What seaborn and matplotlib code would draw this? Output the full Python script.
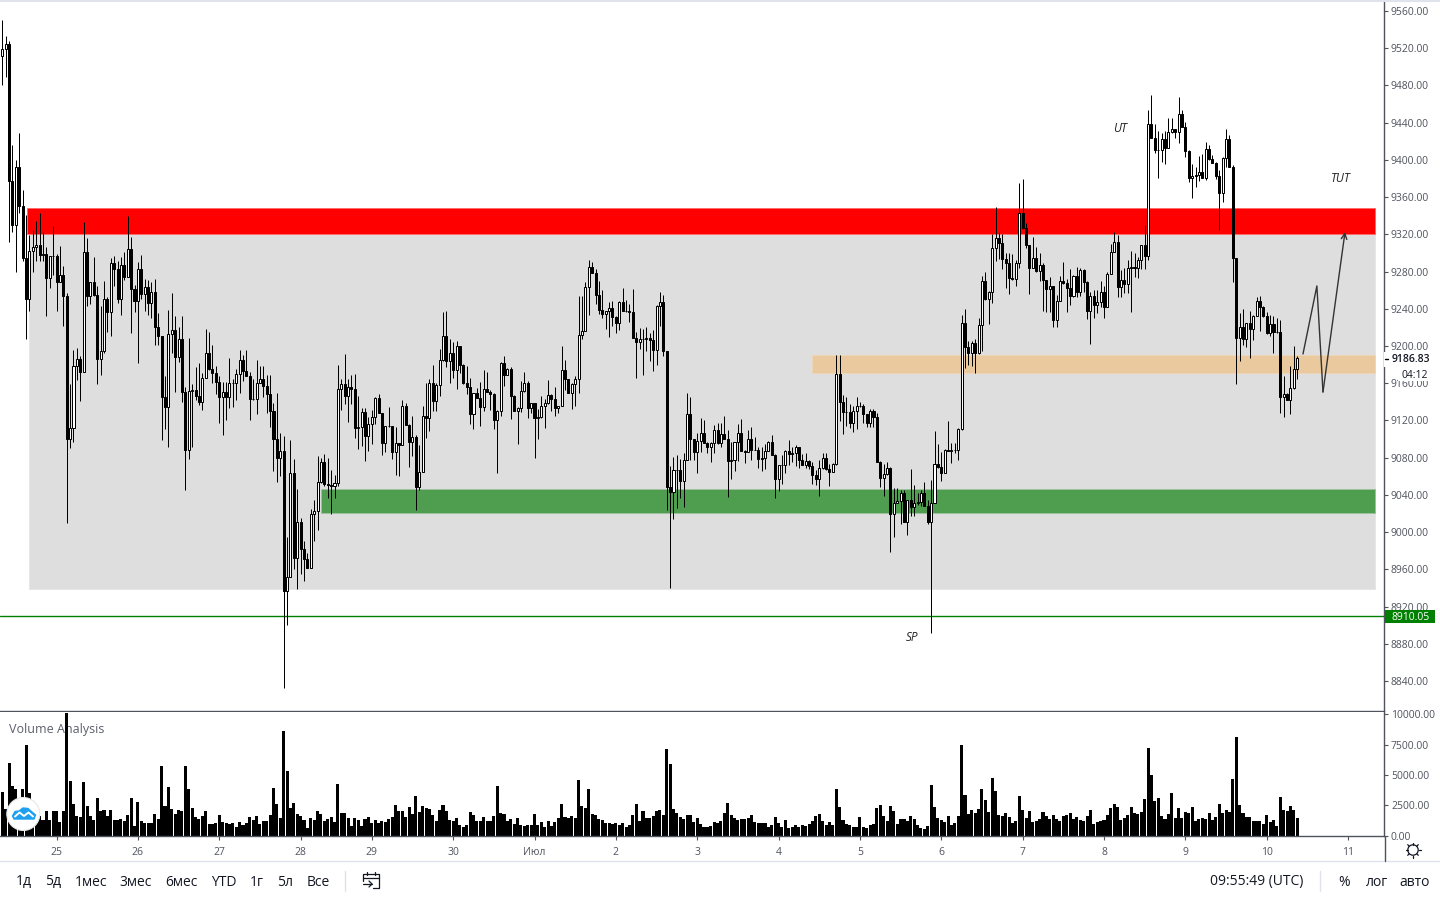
import numpy as np
import pandas as pd
import matplotlib
matplotlib.use('Agg')
import matplotlib.pyplot as plt
from matplotlib.patches import Rectangle, Circle, Polygon
import seaborn as sns

# closes / highs / lows of the hourly candles
first_open = 9512
closes = [
    9519, 9524.5, 9377, 9330, 9392, 9350, 9295, 9250, 9302, 9306,
    9309, 9298, 9299, 9273, 9297, 9297, 9269, 9276, 9254, 9100,
    9111.6, 9179, 9186, 9172.5, 9300.8, 9254, 9268.6, 9255, 9185.7, 9194.7,
    9251, 9236, 9289, 9283, 9251, 9286.6, 9274.5, 9304, 9261, 9248.7,
    9282.5, 9256, 9263, 9246.5, 9257.7, 9220.7, 9211, 9145.6, 9134.9, 9213,
    9217, 9188.6, 9208, 9151, 9088, 9151.7, 9152.8, 9146.7, 9140, 9166,
    9193, 9175, 9171, 9161.7, 9145.6, 9151, 9145.6, 9160, 9160, 9169.6,
    9185, 9173.5, 9168, 9143, 9143, 9160, 9164, 9157, 9148, 9130.6,
    9100, 9080, 9087.6, 8937, 8952, 9063, 8972.7, 9011, 8982, 8971,
    8961, 9019, 9022.7, 9053.6, 9075, 9052, 9051, 9050, 9053, 9153.5,
    9159, 9146.7, 9155.7, 9153.6, 9112.4, 9113, 9128.9, 9103.8, 9116, 9123.4,
    9144, 9128.5, 9096, 9113.5, 9113.8, 9086.6, 9096, 9094, 9135, 9115,
    9097, 9102.7, 9048, 9065, 9125, 9122.4, 9160, 9141, 9158, 9185,
    9210.8, 9184, 9192, 9174, 9200, 9179.7, 9160.7, 9156, 9127, 9149,
    9144.6, 9134, 9153.6, 9151, 9148.5, 9120.6, 9130.6, 9181.4, 9169, 9175,
    9146.7, 9130.6, 9133.9, 9151.4, 9160, 9133.9, 9138.5, 9122.4, 9124, 9135,
    9138.5, 9147.5, 9142.8, 9133.9, 9135, 9174.3, 9164.6, 9150, 9158.9, 9165,
    9211.9, 9216, 9263.8, 9284.6, 9278.8, 9254.9, 9238.8, 9234.5, 9238, 9240.5,
    9231.6, 9225, 9247.7, 9238, 9237.6, 9237, 9209, 9204.7, 9208, 9208,
    9209, 9206, 9196, 9243, 9247, 9194.7, 9049, 9043.6, 9066.6, 9067,
    9054.4, 9077.7, 9127, 9099.8, 9086.6, 9098, 9107, 9096, 9091.9, 9095.5,
    9109.8, 9095.5, 9105, 9100, 9076.9, 9077, 9097, 9107, 9087.6, 9086.6,
    9099.8, 9088, 9088, 9078.7, 9080, 9087.5, 9096.6, 9083, 9057, 9072,
    9072, 9087.6, 9084, 9085, 9091, 9077.6, 9072, 9076.5, 9071, 9061.5,
    9057, 9068.6, 9079.4, 9067.6, 9065, 9072.9, 9169.6, 9139.5, 9128.8, 9129,
    9117, 9130, 9135.6, 9135, 9126.6, 9117, 9130, 9123.4, 9075.8, 9058.6,
    9062, 9068.6, 9019, 9031, 9033, 9042.5, 9011, 9035, 9027, 9031.8,
    9032, 9041.8, 9028, 9010.7, 9031, 9073, 9070, 9064, 9088, 9087,
    9088, 9088, 9110.5, 9224.5, 9199.4, 9192, 9203, 9192, 9222.3, 9270,
    9250, 9257.8, 9305, 9315.8, 9310.4, 9294, 9289.6, 9273.5, 9271.7, 9288.9,
    9343.4, 9326.5, 9308.6, 9284.3, 9295, 9280.7, 9287, 9271, 9261.7, 9265,
    9227.4, 9248.5, 9270.3, 9267.5, 9262.8, 9253.9, 9275.7, 9258.5, 9281.8, 9269,
    9237.7, 9253.9, 9244.2, 9247, 9257.8, 9242.4, 9277, 9301.5, 9311.5, 9263.9,
    9271, 9267, 9283.6, 9285, 9284, 9292.5, 9309, 9297, 9438, 9424,
    9411, 9411, 9422, 9413, 9429.6, 9432.8, 9429.6, 9449.3, 9435.7, 9410,
    9381, 9382.7, 9384, 9387, 9381, 9411.4, 9401, 9397, 9382.7, 9364,
    9401.7, 9422, 9392.8, 9295, 9208.4, 9220, 9208, 9224.5, 9218, 9232.7,
    9248.5, 9242, 9231.7, 9213.8, 9223.4, 9214.8, 9215, 9145.7, 9148, 9142,
    9154.7, 9175, 9186.83,
]
highs = [
    9550, 9533, 9528, 9416, 9400, 9429, 9368, 9341, 9319, 9325,
    9334, 9343, 9322, 9306, 9297, 9329, 9299, 9307, 9286, 9257,
    9159, 9196, 9197.5, 9189, 9333, 9316, 9269, 9296, 9265, 9243,
    9270, 9253, 9295, 9297, 9291, 9296, 9301, 9340, 9317, 9265.5,
    9290, 9298, 9272, 9271, 9269, 9272, 9235, 9211, 9168, 9239,
    9257, 9232, 9220, 9232, 9156, 9209, 9159, 9177, 9182, 9171,
    9218, 9215, 9201, 9178, 9168, 9161, 9161, 9187, 9165, 9175,
    9196, 9190, 9196, 9172, 9165, 9185, 9178, 9178, 9169, 9169,
    9139, 9149, 9107, 9103, 8995, 9099, 9079, 9046, 9015, 8990,
    8978, 9025, 9035, 9082, 9080, 9084, 9080, 9067, 9061, 9180,
    9164, 9191, 9164, 9168.6, 9169.6, 9146.4, 9133, 9133, 9124, 9131,
    9145, 9148, 9128, 9113.5, 9134, 9114, 9112.7, 9096, 9142, 9139,
    9116, 9125, 9104.5, 9094, 9135.7, 9160, 9164, 9179.7, 9160, 9197,
    9237, 9237.7, 9208, 9204, 9205.5, 9200, 9181, 9178.6, 9165.7, 9149,
    9155, 9161.8, 9174, 9171.8, 9153, 9149, 9131, 9182.5, 9189.4, 9176,
    9177, 9147, 9134, 9162, 9172.5, 9162.9, 9139, 9138, 9132, 9146,
    9143, 9163.5, 9148, 9156, 9136, 9200, 9185, 9165, 9160, 9168,
    9253.8, 9254, 9268.5, 9292.5, 9290.7, 9282.8, 9270, 9260, 9238, 9247,
    9248.8, 9232, 9248, 9262.7, 9249, 9245, 9261, 9214.8, 9219, 9218,
    9220, 9213.7, 9217, 9244, 9257.7, 9254.9, 9195, 9071, 9080.5, 9083,
    9078.7, 9084.8, 9150, 9145.6, 9100, 9106, 9123, 9121, 9097, 9097,
    9115, 9117, 9117, 9125, 9110, 9097, 9097, 9116, 9122, 9088,
    9110, 9113.4, 9102, 9092, 9091, 9095, 9098, 9104.5, 9084, 9072,
    9083, 9088, 9099, 9092, 9094, 9091, 9084, 9085, 9077, 9075,
    9067, 9077, 9084.8, 9085, 9073, 9074, 9190.4, 9190.4, 9147, 9145.6,
    9137.8, 9136, 9145, 9140, 9138, 9127, 9132, 9132, 9128, 9076,
    9073, 9075, 9070, 9047, 9047, 9045, 9045, 9035, 9067.6, 9051,
    9042, 9045, 9054, 9034, 9056, 9108.8, 9095, 9086, 9089, 9119.5,
    9096, 9096, 9112, 9233.4, 9239.5, 9205, 9205, 9207, 9229.9, 9275.3,
    9279, 9259, 9320, 9349, 9323, 9320, 9300, 9299.7, 9299, 9292,
    9374.9, 9379.5, 9332.6, 9309, 9317.6, 9306.8, 9299.7, 9289, 9271, 9274.6,
    9265, 9255, 9275.3, 9290, 9272, 9282.8, 9276, 9285, 9284.3, 9283,
    9270, 9258, 9260, 9260, 9270, 9264, 9280, 9310, 9323, 9319,
    9281.8, 9283.6, 9292, 9302, 9300, 9296, 9309, 9330, 9453.6, 9469.7,
    9439, 9431, 9428.6, 9431, 9444.7, 9444.7, 9433, 9468, 9453.6, 9441,
    9411, 9395.6, 9392, 9404, 9406.4, 9419.6, 9416, 9405, 9398, 9389,
    9403.5, 9433.2, 9426.8, 9394.5, 9295, 9235, 9239.5, 9224.5, 9238, 9233,
    9253, 9253.7, 9243, 9237, 9233, 9231.7, 9229.9, 9228, 9168, 9149,
    9178, 9199.5, 9189,
]
lows = [
    9480, 9489, 9312, 9323, 9280, 9343, 9291, 9208, 9238, 9280,
    9291, 9291, 9291, 9232, 9262, 9276, 9238, 9269, 9222, 9009.5,
    9090, 9097, 9163, 9141, 9172.5, 9243, 9245, 9254, 9159, 9169,
    9193, 9215, 9211, 9264.5, 9246.5, 9233, 9271, 9274, 9214, 9237,
    9182, 9251, 9238, 9233, 9230, 9201, 9201, 9099, 9111, 9091,
    9193, 9151, 9183, 9140, 9045, 9079, 9091, 9142, 9137, 9131,
    9166, 9174, 9160, 9148, 9117, 9104.5, 9120, 9133, 9134, 9142,
    9150, 9162, 9168, 9120, 9142, 9127, 9160, 9145, 9128, 9113,
    9066, 9054, 9060, 8833, 8900, 8952, 8960, 8939, 8955, 8948,
    8961, 8961, 8991, 9002, 9053, 9050, 9037, 9020, 9037, 9050,
    9131, 9138, 9118, 9138, 9101.6, 9089.5, 9093, 9075.9, 9087, 9094.8,
    9116, 9128, 9083, 9086.6, 9113, 9078.7, 9061.6, 9060.5, 9094, 9115,
    9070, 9082, 9024, 9045, 9065, 9101.6, 9108.8, 9130, 9130.3, 9146,
    9184, 9177, 9160.7, 9166, 9154, 9170.7, 9159, 9148, 9116.3, 9111,
    9144, 9113.5, 9130, 9151, 9131, 9111, 9064, 9125, 9157, 9169,
    9121.7, 9130, 9094.8, 9129.6, 9151, 9123, 9128, 9080, 9100, 9123,
    9112.4, 9138, 9130.6, 9125, 9128, 9135, 9153, 9150, 9132.8, 9135,
    9150, 9207, 9216, 9233, 9278, 9245, 9234.5, 9230.5, 9218, 9210,
    9222, 9213.7, 9217.3, 9238, 9237, 9226, 9209, 9166, 9197, 9169,
    9195, 9184, 9173.6, 9179.7, 9221.6, 9189, 9024, 8939.5, 9014.6, 9026,
    9036.5, 9027, 9077, 9078, 9077.6, 9064, 9086, 9096, 9085, 9075.8,
    9085, 9095, 9091, 9100, 9038, 9056.9, 9066, 9076, 9087, 9074.8,
    9087, 9078, 9088, 9068.7, 9066, 9067.6, 9087, 9083, 9037, 9044,
    9051.5, 9063, 9072, 9075, 9071, 9068.7, 9072, 9068.7, 9068, 9052,
    9050.8, 9039, 9068, 9067, 9050, 9065, 9072, 9119.5, 9105.5, 9114,
    9112, 9107.7, 9111, 9134, 9117, 9113, 9113, 9113, 9075, 9048,
    9039, 9061, 8979, 8995, 9031, 9009, 9011, 8997, 9017, 9017,
    9029, 9028, 9028, 9009, 8892, 9031, 9069, 9055.4, 9064, 9087,
    9074.8, 9085, 9077.6, 9110, 9176, 9179.8, 9179, 9171.5, 9191, 9195,
    9249, 9223.8, 9246.7, 9291.8, 9294, 9282.9, 9262.8, 9255.6, 9271, 9264,
    9284, 9326, 9305.8, 9256, 9284, 9280, 9270, 9238, 9236.7, 9236.7,
    9220, 9220, 9248, 9267, 9236, 9244, 9253, 9253, 9254, 9258,
    9229, 9202.3, 9230, 9235, 9242, 9230, 9242, 9277, 9301, 9253,
    9253, 9257, 9257, 9237, 9274, 9273, 9283, 9283, 9292, 9424,
    9407, 9381, 9398, 9395.6, 9413, 9429, 9424, 9417.8, 9435, 9403,
    9376.6, 9359, 9371, 9377.7, 9380, 9378, 9400, 9397, 9379, 9324.7,
    9355, 9392, 9392, 9269, 9159.3, 9184, 9201, 9199, 9187.6, 9206,
    9232, 9216.6, 9231, 9213, 9211, 9193, 9214, 9128, 9124, 9142,
    9127, 9154, 9164.7,
]
volumes = [
    3600, 2200, 6000, 4100, 3800, 2500, 3800, 7500, 3500, 2000,
    2000, 1600, 1300, 2050, 1300, 2050, 2000, 1150, 2050, 10150,
    4500, 2600, 1630, 1500, 4450, 2450, 1630, 1300, 3100, 2050,
    2100, 1630, 2100, 1300, 1300, 1400, 1200, 1700, 3100, 800,
    2800, 1200, 1050, 1000, 1050, 1800, 1400, 5700, 2450, 4030,
    2200, 1800, 2100, 2050, 5770, 3800, 2300, 1550, 1400, 1630,
    2050, 970, 970, 1050, 1700, 1150, 1050, 970, 1050, 720,
    1150, 880, 1050, 1550, 1300, 1630, 970, 1200, 1200, 1700,
    3950, 2600, 1460, 8670, 5350, 2300, 2700, 1800, 1630, 1300,
    630, 1460, 1300, 2050, 1800, 1200, 1400, 1550, 1150, 4280,
    1880, 1880, 1460, 800, 1460, 1300, 800, 1400, 1550, 1050,
    1300, 1050, 1200, 1150, 1400, 1550, 2540, 2050, 2050, 1550,
    2370, 1800, 3280, 1960, 2450, 2300, 2200, 1700, 1200, 2100,
    2540, 2050, 1300, 1200, 1460, 880, 720, 880, 1960, 1700,
    1200, 1200, 1550, 1200, 1200, 1630, 4110, 1880, 1800, 1200,
    1400, 970, 1460, 880, 800, 880, 880, 1800, 880, 1150,
    720, 1200, 800, 1150, 1460, 2620, 1550, 1460, 1630, 1460,
    4610, 2450, 2300, 3800, 1800, 1700, 1400, 1300, 1050, 1050,
    970, 1050, 880, 1050, 720, 880, 1700, 2620, 1200, 2050,
    1460, 1460, 1630, 2050, 2130, 1700, 7180, 5930, 2200, 1880,
    1550, 1400, 1700, 1700, 1150, 1460, 970, 720, 720, 800,
    1150, 1050, 1200, 1880, 2700, 1700, 1460, 1300, 1400, 1400,
    1460, 1700, 1150, 1050, 1050, 1050, 720, 880, 1550, 1050,
    720, 1300, 630, 720, 880, 720, 880, 800, 970, 1200,
    1630, 1800, 1200, 880, 1150, 880, 3800, 2370, 1300, 970,
    880, 720, 720, 1550, 720, 630, 880, 970, 2300, 2540,
    1630, 1200, 2450, 2050, 970, 1400, 1400, 1200, 1630, 1400,
    880, 630, 550, 800, 4200, 2370, 1460, 1300, 1150, 1630,
    880, 1050, 1630, 7450, 3370, 1800, 2130, 1880, 2200, 3880,
    2950, 1960, 4780, 3700, 1700, 1630, 1880, 1550, 1050, 1200,
    3280, 2130, 1460, 2050, 1150, 1200, 1400, 1960, 1630, 1400,
    1700, 1400, 1200, 1630, 1700, 1880, 1400, 1550, 1300, 1200,
    1630, 2130, 970, 1150, 1200, 1300, 1700, 2300, 2620, 2370,
    1300, 1460, 1700, 2370, 1880, 1800, 1960, 3040, 7260, 5020,
    2870, 3120, 1630, 1400, 1800, 3530, 1460, 2300, 1460, 1960,
    1880, 2370, 1200, 1400, 1460, 1400, 1880, 1300, 1550, 2620,
    1880, 2130, 1960, 4690, 8130, 2540, 1880, 1550, 1550, 1200,
    1200, 1200, 970, 1700, 1150, 1300, 800, 3200, 2130, 2050,
    2450, 2130, 1460,
]

# date axis: candle number of each midnight (three hours are missing before the 29th)
day_ticks = [16, 40, 64, 88, 109, 133, 157, 181, 205, 229, 253, 277, 301, 325, 349, 373, 397]
day_labels = ['25', '26', '27', '28', '29', '30', 'Июл', '2', '3', '4', '5', '6', '7', '8', '9', '10', '11']
price_ticks = list(range(8840, 9561, 40))
volume_ticks = [0, 2500, 5000, 7500, 10000]

# drawn zones: (left candle, bottom price, top price, fill, border)
gray_zone = (8.0, 8938.5, 9320.4, '#dedede', '#e6e6e6')
red_zone = (7.15, 9320.4, 9348.3, '#ff0000', '#ff6b6b')
green_zone = (94.0, 9020.5, 9046, '#4f9e4f', '#9dc09d')
tan_zone = (238.9, 9170.5, 9190.3, '#e9c99d', '#ecd6b6')
zone_right = 404.8
support_price = 8910.05
last_price = 9186.83

# hand drawn projection after the last candle
path_x = [383.7, 387.8, 389.6, 396.1]
path_y = [9191.4, 9264.5, 9150.6, 9322.5]

toolbar_left = [('1д', 24), ('5д', 53), ('1мес', 91), ('3мес', 136), ('6мес', 181),
                ('YTD', 224), ('1г', 257), ('5л', 285), ('Все', 318)]
toolbar_right = [('09:55:49 (UTC)', 1257), ('%', 1344), ('лог', 1377), ('авто', 1415)]

sns.set_theme(style='white')
plt.rcParams['font.family'] = ['Open Sans', 'DejaVu Sans']

axis_color = '#50535e'
text_color = '#50535e'

df = pd.DataFrame({'candle': np.arange(len(closes)), 'close': closes, 'high': highs,
                   'low': lows, 'volume': volumes})
df['open'] = df['close'].shift(1).fillna(first_open)

fig = plt.figure(figsize=(14.4, 9), dpi=100)
ax = fig.add_axes([0, 1 - 711 / 900, 1384 / 1440, 710 / 900])
ax_vol = fig.add_axes([0, 1 - 836 / 900, 1384 / 1440, 124 / 900])

# zones
for left, low, high, color, border in [gray_zone, red_zone, green_zone, tan_zone]:
    ax.add_patch(Rectangle((left, low), zone_right - left, high - low, facecolor=color,
                           edgecolor=border, linewidth=0.72, zorder=1))

ax.axhline(support_price, color='#008000', lw=1, zorder=2)

# candles
up = df['close'] >= df['open']
ax.vlines(df['candle'], df['low'], df['high'], color='black', lw=0.72, zorder=3)
ax.bar(df['candle'], (df['close'] - df['open']).abs(), bottom=df[['open', 'close']].min(axis=1),
       width=0.6, color=np.where(up, 'white', 'black'), edgecolor='black', linewidth=0.72, zorder=4)

# projection
ax.plot(path_x[:3], path_y[:3], color='#333333', lw=1, zorder=5)
ax.annotate('', xy=(path_x[3], path_y[3]), xytext=(path_x[2], path_y[2]),
            arrowprops=dict(arrowstyle='->', color='#333333', lw=1, mutation_scale=10,
                            shrinkA=0, shrinkB=0), zorder=5)

ax.text(329.8, 9434, 'UT', style='italic', fontsize=8.5, color='#222222', ha='center', va='center')
ax.text(394.9, 9379.5, 'TUT', style='italic', fontsize=8.5, color='#222222', ha='center', va='center')
ax.text(268.3, 8887, 'SP', style='italic', fontsize=8.5, color='#222222', ha='center', va='center')

ax.set_xlim(-0.68, 407.6)
ax.set_ylim(8807.8, 9570.7)
ax.yaxis.tick_right()
ax.set_yticks(price_ticks, [f'{p:.2f}' for p in price_ticks])
ax.set_xticks([])
ax.tick_params(axis='y', length=3, width=0.8, color=axis_color, labelcolor=text_color,
               labelsize=7.5, pad=2, left=False, right=True)
for name in ['top', 'left']:
    ax.spines[name].set_visible(False)
for name in ['right', 'bottom']:
    ax.spines[name].set_color(axis_color)
    ax.spines[name].set_linewidth(1)

# volume pane
sns.barplot(data=df, x='candle', y='volume', native_scale=True, color='black', saturation=1,
            width=0.9, linewidth=0, ax=ax_vol)
ax_vol.set_xlim(-0.68, 407.6)
ax_vol.set_ylim(-41, 10200)
ax_vol.set_xlabel('')
ax_vol.set_ylabel('')
ax_vol.yaxis.tick_right()
ax_vol.set_yticks(volume_ticks, [f'{v:.2f}' for v in volume_ticks])
ax_vol.set_xticks(day_ticks, day_labels)
ax_vol.tick_params(axis='y', length=3, width=0.8, color=axis_color, labelcolor=text_color,
                   labelsize=7.5, pad=2, left=False, right=True)
ax_vol.tick_params(axis='x', length=3, width=0.8, color=axis_color, labelcolor=text_color,
                   labelsize=7.5, pad=5, bottom=True)
for name in ['top', 'left']:
    ax_vol.spines[name].set_visible(False)
for name in ['right', 'bottom']:
    ax_vol.spines[name].set_color(axis_color)
    ax_vol.spines[name].set_linewidth(1)
ax_vol.text(9 / 1384, 0.855, 'Volume Analysis', transform=ax_vol.transAxes, fontsize=9,
            color='#5d606b', va='center', ha='left', zorder=0)

# window chrome, laid out in screen pixels
ui = fig.add_axes([0, 0, 1, 1], zorder=10)
ui.set_xlim(0, 1440)
ui.set_ylim(900, 0)
ui.axis('off')
ui.patch.set_alpha(0)

ui.plot([0, 1440], [0.5, 0.5], color='#e0e3eb', lw=1.5)
ui.plot([0, 1440], [861, 861], color='#e0e3eb', lw=1)
ui.plot([1384.5, 1384.5], [836, 861], color=axis_color, lw=1)
ui.plot([345, 345], [871, 891], color='#e0e3eb', lw=1)
ui.plot([1320, 1320], [871, 891], color='#e0e3eb', lw=1)

# last price and countdown labels
ui.add_patch(Rectangle((1384, 352), 56, 15, facecolor='white', edgecolor='none'))
ui.plot([1385, 1388], [358.5, 358.5], color='black', lw=1)
ui.text(1392, 359.5, f'{last_price:.2f}', fontsize=7.5, color='#131722', va='center', fontweight='semibold')
ui.add_patch(Rectangle((1398, 368), 34, 12.5, facecolor='white', edgecolor='none'))
ui.text(1428, 375.5, '04:12', fontsize=7.5, color='#131722', va='center', ha='right')

# support label
ui.add_patch(Rectangle((1385, 610), 50, 13, facecolor='#008000', edgecolor='none'))
ui.text(1391, 617.5, f'{support_price:.2f}', fontsize=7.5, color='white', va='center')

for label, x in toolbar_left + toolbar_right:
    ui.text(x, 882, label, fontsize=10, color='#131722', ha='center', va='center')

# calendar icon
ui.plot([363, 363, 379, 379, 373], [881, 874, 874, 888, 888], color='#131722', lw=0.9)
ui.plot([363, 379], [877.5, 877.5], color='#131722', lw=0.9)
ui.plot([367, 367], [872, 875], color='#131722', lw=0.9)
ui.plot([375, 375], [872, 875], color='#131722', lw=0.9)
ui.plot([363, 372], [884, 884], color='#131722', lw=0.9)
ui.plot([369, 372, 369], [881, 884, 887], color='#131722', lw=0.9)

# sun icon
ui.add_patch(Circle((1413, 850), 5.2, facecolor='white', edgecolor='#131722', lw=0.9))
for angle in np.deg2rad([0, 45, 90, 135, 180, 225, 270, 315]):
    ui.plot([1413 + 5.5 * np.cos(angle), 1413 + 7.5 * np.cos(angle)],
            [850 + 5.5 * np.sin(angle), 850 + 7.5 * np.sin(angle)], color='#131722', lw=0.9)

# logo
ui.add_patch(Circle((23.3, 814), 16.5, facecolor='white', edgecolor='#e6e6e6', lw=0.8))
ui.add_patch(Polygon([(12.5, 816), (15, 811.5), (19, 811), (23, 808), (28, 808.5), (32, 812),
                      (35.5, 815), (34, 819), (14, 819)],
                     closed=True, facecolor='#1e9ff0', edgecolor='#1e9ff0', lw=1, joinstyle='round'))
ui.plot([15, 19.5, 24, 28.5, 33], [816.5, 812.5, 816, 812.5, 816.5], color='white', lw=1.4)

fig.savefig('out.png', dpi=100)
